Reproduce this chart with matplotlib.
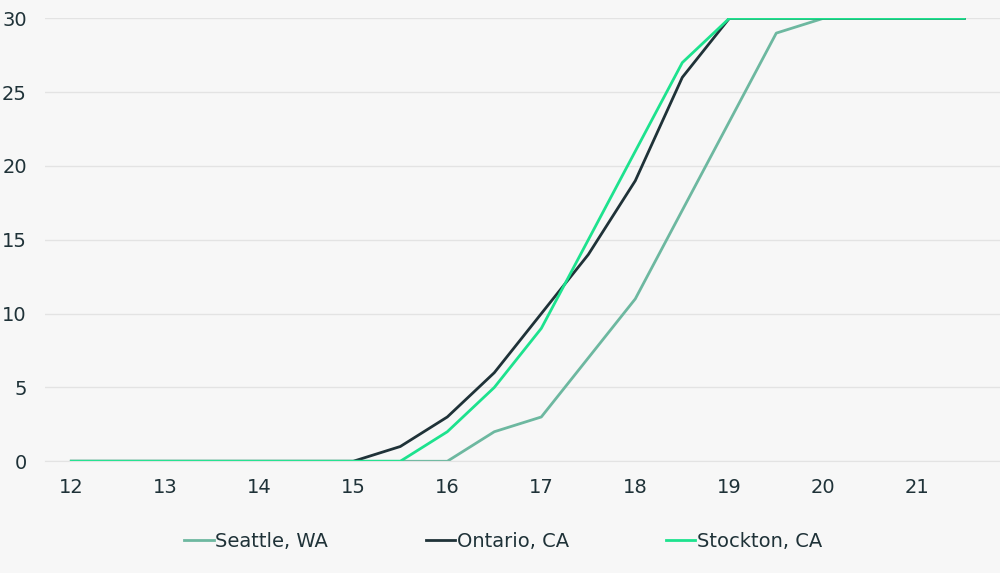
import matplotlib
matplotlib.use("Agg")
import matplotlib.pyplot as plt

x = [12,12.5,13,13.5,14,14.5,15,15.5,16,16.5,17,17.5,18,18.5,19,19.5,20,20.5,21,21.5]
seattle = [0,0,0,0,0,0,0,0,0,2,3,7,11,17,23,29,30,30,30,30]
ontario = [0,0,0,0,0,0,0,1,3,6,10,14,19,26,30,30,30,30,30,30]
stockton = [0,0,0,0,0,0,0,0,2,5,9,15,21,27,30,30,30,30,30,30]
xticks = [12,13,14,15,16,17,18,19,20,21]
yticks = [0,5,10,15,20,25,30]

bg = "#f7f7f7"
fig = plt.figure(figsize=(10,5.73), dpi=100, facecolor=bg)
ax = fig.add_axes([0.045, 0.195, 0.955, 0.773], facecolor=bg)
ax.plot(x, seattle, color="#6db8a0", lw=2, label="Seattle, WA")
ax.plot(x, ontario, color="#1f3238", lw=2, label="Ontario, CA")
ax.plot(x, stockton, color="#1de28e", lw=2, label="Stockton, CA")
ax.set_xlim(11.72, 21.88)
ax.set_ylim(0, 30)
ax.set_xticks(xticks)
ax.set_yticks(yticks)
ax.grid(axis="y", color="#e3e3e3", lw=1)
ax.set_axisbelow(True)
for s in ax.spines.values():
    s.set_visible(False)
ax.spines["bottom"].set_visible(True)
ax.spines["bottom"].set_color("#e3e3e3")
ax.tick_params(length=0, labelsize=14, colors="#1f3238", pad=12)
ax.tick_params(axis="y", pad=13)
ax.legend(loc="upper center", bbox_to_anchor=(0.48, -0.12), ncol=3, frameon=False,
          fontsize=14, handlelength=1.5, handletextpad=0.1, columnspacing=5,
          labelcolor="#1f3238")
fig.savefig("out.png", dpi=100, facecolor=bg)
